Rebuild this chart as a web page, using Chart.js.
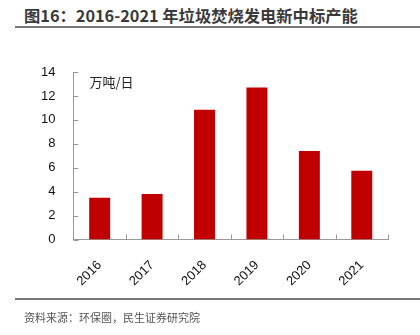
<!DOCTYPE html>
<html><head><meta charset="utf-8">
<script src="https://cdn.jsdelivr.net/npm/chart.js@4/dist/chart.umd.min.js"></script>
<style>
html,body{margin:0;padding:0;background:#fff;width:420px;height:335px;overflow:hidden;position:relative;}
#title{position:absolute;left:24px;top:5px;font-family:"Noto Sans CJK SC";font-weight:bold;font-size:16.3px;color:#3a3a3a;white-space:nowrap;line-height:20px;}
#line1{position:absolute;left:15px;top:26px;width:405px;height:2px;background:#777;}
#line2{position:absolute;left:15px;top:298px;width:405px;height:2px;background:#777;}
#foot{position:absolute;left:24px;top:309px;font-family:"Noto Sans CJK SC";font-size:11px;color:#555;white-space:nowrap;line-height:16px;}
#wrap{position:absolute;left:0;top:40px;width:420px;height:259px;}
</style></head><body>
<div id="title">图16：2016-2021 年垃圾焚烧发电新中标产能</div>
<div id="line1"></div>
<div id="wrap"><canvas id="c"></canvas></div>
<div id="line2"></div>
<div id="foot">资料来源：环保圈，民生证券研究院</div>
<script>
const categories = ["2016","2017","2018","2019","2020","2021"];
const capacity = [3.5, 3.8, 10.85, 12.7, 7.4, 5.75];
const unitLabel = "万吨/日";

const innerTicks = {
  id:'innerTicks',
  afterDraw(chart){
    const ctx = chart.ctx, x = chart.scales.x, y = chart.scales.y, a = chart.chartArea;
    ctx.save();
    ctx.strokeStyle = '#999'; ctx.lineWidth = 1;
    ctx.beginPath();
    y.ticks.forEach(t=>{ const py = Math.round(y.getPixelForValue(t.value))+0.5; ctx.moveTo(a.left, py); ctx.lineTo(a.left+5, py); });
    for(let i=0;i<=categories.length;i++){ const px = Math.round(x.getPixelForValue(i-0.5))+0.5; ctx.moveTo(px, a.bottom); ctx.lineTo(px, a.bottom-5); }
    ctx.stroke();
    ctx.fillStyle = '#222';
    ctx.font = '13px "Noto Sans CJK SC"';
    ctx.textBaseline = 'middle';
    ctx.fillText(unitLabel, a.left+16, a.top+10);
    ctx.restore();
  }
};

new Chart(document.getElementById('c'), {
  type:'bar',
  data:{labels:categories, datasets:[{data:capacity, backgroundColor:'#C00000', categoryPercentage:0.4, barPercentage:1}]},
  options:{
    responsive:true, maintainAspectRatio:false, animation:false,
    layout:{padding:{left:31,right:32,top:32,bottom:0}},
    plugins:{legend:{display:false}, tooltip:{enabled:false}},
    scales:{
      x:{offset:true, grid:{display:false, offset:true}, border:{display:true,color:'#999'},
         ticks:{color:'#111', font:{family:'"Liberation Sans"', size:13}, minRotation:45, maxRotation:45, padding:10}},
      y:{min:0, max:14, grid:{display:false}, border:{display:true,color:'#999'},
         ticks:{stepSize:2, color:'#111', font:{family:'"Liberation Sans"', size:13}, padding:10}}
    }
  },
  plugins:[innerTicks]
});
</script>
</body></html>
